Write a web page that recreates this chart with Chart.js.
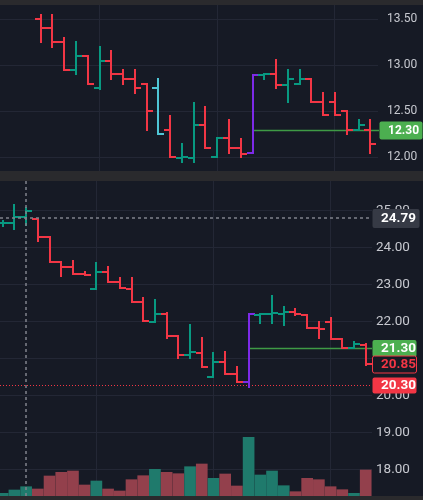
<!DOCTYPE html>
<html>
<head>
<meta charset="utf-8">
<script src="https://cdn.jsdelivr.net/npm/chart.js@4.4.1/dist/chart.umd.min.js"></script>
<style>
  html, body { margin: 0; padding: 0; background: #2a2a2d; }
  #wrap { position: relative; width: 423px; height: 500px; overflow: hidden; }
  canvas { position: absolute; left: 0; background: #161a25; }
  #topChart { top: 5px; }
  #bottomChart { top: 181px; }
</style>
</head>
<body>
<div id="wrap">
  <canvas id="topChart" width="423" height="166"></canvas>
  <canvas id="bottomChart" width="423" height="315"></canvas>
</div>
<script>
// ---- data ----
// top pane starts at bar 3 of the shared time axis
const topStart = 3;
const topOpen  = [13.50,13.40,13.25,12.95,13.10,12.75,13.05,12.90,12.85,12.80,12.75,12.30,11.99,11.99,12.35,12.00,12.21,12.10,12.05,12.89,12.90,12.79,12.80,12.85,12.60,12.60,12.50,12.30,12.30];
const topHigh  = [13.55,13.55,13.30,13.25,13.10,13.20,13.15,12.95,12.95,12.80,12.85,12.45,12.14,12.59,12.55,12.21,12.40,12.20,12.89,12.91,13.06,12.95,12.95,12.85,12.70,12.70,12.50,12.40,12.40];
const topLow   = [13.25,13.20,12.95,12.90,12.80,12.74,12.85,12.80,12.70,12.30,12.25,12.00,11.95,11.95,12.10,12.00,12.05,12.00,12.05,12.85,12.75,12.60,12.80,12.60,12.46,12.46,12.25,12.30,12.05];
const topClose = [13.40,13.25,12.95,13.10,12.80,13.05,12.90,12.85,12.75,12.50,12.25,12.00,12.00,12.35,12.10,12.21,12.10,12.04,12.89,12.90,12.79,12.85,12.85,12.60,12.46,12.46,12.30,12.35,12.14];
const topTicks = [12.00, 12.50, 13.00, 13.50];
const topLine = 12.30;

const botOpen  = [24.67,24.68,24.82,24.77,24.30,23.61,23.49,23.28,22.88,23.34,23.08,22.88,22.52,22.00,22.21,21.62,21.10,21.15,20.51,20.90,20.58,20.36,22.19,22.20,22.20,22.25,22.18,21.84,22.00,21.52,21.28,21.38];
const botHigh  = [24.72,25.15,25.07,24.77,24.30,23.61,23.64,23.34,23.58,23.49,23.19,23.19,22.65,22.59,22.24,21.62,21.91,21.55,21.15,21.19,20.78,22.20,22.20,22.70,22.41,22.34,22.18,22.00,22.09,21.52,21.46,21.40];
const botLow   = [24.60,24.50,24.61,24.19,23.61,23.24,23.28,23.26,22.88,23.08,22.90,22.52,22.03,22.00,21.55,21.01,21.01,20.77,20.51,20.58,20.36,20.23,21.96,21.96,21.91,22.18,21.82,21.55,21.52,21.28,21.28,20.83];
const botClose = [24.68,24.82,24.99,24.30,23.62,23.49,23.28,23.26,23.34,23.08,22.90,22.52,22.03,22.21,21.62,21.10,21.19,20.78,20.90,20.58,20.38,22.20,22.20,22.23,22.25,22.20,21.84,21.80,21.52,21.28,21.40,20.85];
const volume   = [27,60,93,70,200,237,250,110,150,70,50,163,203,267,237,223,293,320,177,220,100,587,210,250,103,43,177,163,93,63,27,260];
const botTicks = [18, 19, 20, 21, 22, 23, 24, 25];

const lastPrice = 21.30;
const closePrice = 20.85;
const alertPrice = 20.30;
const crossPrice = 24.79;
const crossIndex = 2;

const timeGrid = [8, 18, 28];
const markedIndex = 21;   // purple bar in both panes
const cyanIndex = 13;     // highlighted bar in top pane

// ---- styling ----
const UP = '#089981', DOWN = '#f23645', CYAN = '#4fc6d6', PURPLE = '#7d2ae8';
const VOL_UP = '#1f7a6c', VOL_DOWN = '#93404c';
const GRID = '#232735';
const LABEL = '#c6c8cf';

function barColor(i, o, c, pane) {
    if (i === markedIndex) return PURPLE;
    if (pane === 'top' && i === cyanIndex) return CYAN;
    return c >= o ? UP : DOWN;
}

function ohlcPlugin(pane, start, open, high, low, close) {
    return {
        id: 'ohlc',
        afterDatasetsDraw(chart) {
            const { ctx } = chart;
            const x = chart.scales.x, y = chart.scales.y;
            ctx.save();
            ctx.lineWidth = 2;
            open.forEach((o, k) => {
                const i = k + start;
                const px = Math.round(x.getPixelForValue(i));
                const yo = Math.round(y.getPixelForValue(o));
                const yc = Math.round(y.getPixelForValue(close[k]));
                ctx.strokeStyle = barColor(i, o, close[k], pane);
                ctx.beginPath();
                ctx.moveTo(px, Math.round(y.getPixelForValue(high[k])) - 1);
                ctx.lineTo(px, Math.round(y.getPixelForValue(low[k])) + 1);
                ctx.moveTo(px - 6, yo); ctx.lineTo(px, yo);
                ctx.moveTo(px, yc); ctx.lineTo(px + 6, yc);
                ctx.stroke();
            });
            ctx.restore();
        }
    };
}

function priceBox(ctx, yScale, value, o) {
    const py = Math.round(yScale.getPixelForValue(value));
    const bx = yScale.left + o.dx;
    ctx.beginPath();
    ctx.roundRect(bx + 0.5, py - o.h / 2 + 0.5, o.w, o.h, 2);
    ctx.fillStyle = o.fill;
    ctx.fill();
    if (o.stroke) {
        ctx.strokeStyle = o.stroke;
        ctx.lineWidth = 1;
        ctx.stroke();
    }
    ctx.fillStyle = o.text;
    ctx.font = o.font;
    ctx.textAlign = 'left';
    ctx.textBaseline = 'middle';
    ctx.fillText(value.toFixed(2), bx + o.pad, py + 1);
}

function hLine(ctx, yScale, value, x0, x1, color, width, dash) {
    const py = Math.round(yScale.getPixelForValue(value)) + 0.5;
    ctx.save();
    ctx.strokeStyle = color;
    ctx.lineWidth = width;
    ctx.setLineDash(dash || []);
    ctx.beginPath();
    ctx.moveTo(x0, py);
    ctx.lineTo(x1, py);
    ctx.stroke();
    ctx.restore();
}

const topLevels = {
    id: 'levels',
    beforeDatasetsDraw(chart) {
        const x = chart.scales.x, y = chart.scales.y;
        hLine(chart.ctx, y, topLine, x.getPixelForValue(markedIndex), chart.chartArea.right + 1, '#3f9a45', 1.5);
    },
    afterDraw(chart) {
        priceBox(chart.ctx, chart.scales.y, topLine, {
            dx: 1, w: 43, h: 18, pad: 9, fill: '#4caf50', text: '#ffffff',
            font: 'bold 12px Roboto, "Noto Sans", sans-serif'
        });
    }
};

const botLevels = {
    id: 'levels',
    beforeDatasetsDraw(chart) {
        const { ctx, chartArea } = chart;
        const x = chart.scales.x, y = chart.scales.y;
        hLine(ctx, y, alertPrice, chartArea.left, chartArea.right, DOWN, 1, [1, 2]);
        hLine(ctx, y, lastPrice, x.getPixelForValue(markedIndex), chartArea.right, '#3f9a45', 1.5);
    },
    afterDraw(chart) {
        const { ctx, chartArea } = chart;
        const x = chart.scales.x, y = chart.scales.y;
        // crosshair
        ctx.save();
        ctx.strokeStyle = '#80838c';
        ctx.lineWidth = 1.5;
        ctx.setLineDash([3, 3]);
        const cx = Math.round(x.getPixelForValue(crossIndex));
        const cy = Math.round(y.getPixelForValue(crossPrice));
        ctx.beginPath();
        ctx.moveTo(cx, chartArea.top);
        ctx.lineTo(cx, chartArea.bottom);
        ctx.moveTo(chartArea.left, cy);
        ctx.lineTo(chartArea.right - 2, cy);
        ctx.stroke();
        ctx.restore();

        const font = 'bold 13.5px Roboto, "Noto Sans", sans-serif';
        priceBox(ctx, y, crossPrice, { dx: 0, w: 47, h: 19, pad: 9, fill: '#363a45', text: '#ffffff', font });
        priceBox(ctx, y, lastPrice, { dx: 0, w: 44, h: 17, pad: 9, fill: '#4caf50', text: '#ffffff', font });
        priceBox(ctx, y, closePrice, { dx: 0, w: 44, h: 17, pad: 9, fill: '#161a25', stroke: DOWN, text: DOWN, font });
        priceBox(ctx, y, alertPrice, { dx: 0, w: 44, h: 16, pad: 9, fill: DOWN, text: '#ffffff', font });
    }
};

function noPad(scale) {
    scale.paddingTop = 0;
    scale.paddingBottom = 0;
    scale.paddingLeft = 0;
    scale.paddingRight = 0;
}

function timeAxis(min, max) {
    return {
        type: 'linear',
        min: min,
        max: max,
        offset: false,
        afterBuildTicks: s => { s.ticks = timeGrid.map(v => ({ value: v })); },
        afterFit: s => { s.height = 0; noPad(s); },
        ticks: { display: false },
        grid: { color: GRID, drawTicks: false, offset: false },
        border: { display: false }
    };
}

function priceAxis(min, max, ticks, width, pad, size) {
    return {
        type: 'linear',
        position: 'right',
        min: min,
        max: max,
        afterBuildTicks: s => { s.ticks = ticks.map(v => ({ value: v })); },
        afterFit: s => { s.width = width; noPad(s); },
        ticks: {
            color: LABEL,
            padding: pad,
            font: { family: 'Roboto, "Noto Sans", sans-serif', size: size },
            callback: v => Number(v).toFixed(2)
        },
        grid: { color: GRID, drawTicks: false },
        border: { display: false }
    };
}

new Chart(document.getElementById('topChart'), {
    type: 'line',
    data: {
        datasets: [{
            data: topClose.map((c, k) => ({ x: k + topStart, y: c })),
            showLine: false,
            pointRadius: 0
        }]
    },
    options: {
        responsive: false,
        animation: false,
        devicePixelRatio: 1,
        layout: { padding: 0 },
        plugins: { legend: { display: false }, tooltip: { enabled: false } },
        scales: {
            x: timeAxis(-0.458, 31.655),
            y: priceAxis(11.851, 13.655, topTicks, 45, 9, 12)
        }
    },
    plugins: [topLevels, ohlcPlugin('top', topStart, topOpen, topHigh, topLow, topClose)]
});

new Chart(document.getElementById('bottomChart'), {
    type: 'bar',
    data: {
        datasets: [{
            data: volume.map((v, i) => ({ x: i, y: v })),
            yAxisID: 'v',
            backgroundColor: volume.map((v, i) => botClose[i] >= botOpen[i] ? VOL_UP : VOL_DOWN),
            borderWidth: 0,
            barThickness: 11
        }]
    },
    options: {
        responsive: false,
        animation: false,
        devicePixelRatio: 1,
        layout: { padding: 0 },
        plugins: { legend: { display: false }, tooltip: { enabled: false } },
        scales: {
            x: timeAxis(-0.2306, 31.537),
            y: priceAxis(17.289, 25.803, botTicks, 51, 4, 13.5),
            v: { display: false, min: 0, max: 3150 }
        }
    },
    plugins: [botLevels, ohlcPlugin('bottom', 0, botOpen, botHigh, botLow, botClose)]
});
</script>
</body>
</html>
